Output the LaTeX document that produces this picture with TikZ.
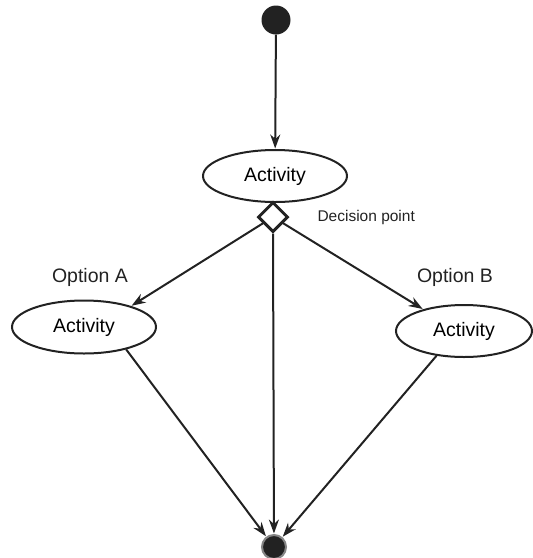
\documentclass[tikz,border=0pt]{standalone}
\usepackage{fontspec}
\setmainfont{Liberation Sans}
\usetikzlibrary{shapes.geometric,arrows.meta}
\definecolor{ink}{HTML}{222222}
\tikzset{
  activity/.style={ellipse, draw=ink, line width=2pt, fill=white,
    inner sep=0pt, font=\fontsize{19.5}{22}\selectfont},
  flow/.style={draw=ink, line width=2pt,
    -{Stealth[length=14pt,width=10pt]}, shorten >=0.5pt},
  label/.style={font=\fontsize{19.5}{22}\selectfont, text=ink},
}
\begin{document}
\begin{tikzpicture}[x=1pt, y=-1pt]
  \useasboundingbox (0,0) rectangle (533,558);

  % start and end markers
  \node (start) [circle, fill=ink, minimum size=29pt, inner sep=0pt] at (276,20) {};
  \node (end) [circle, fill=ink, draw=ink!55, line width=2pt,
               minimum size=24pt, inner sep=0pt] at (274,547) {};

  % activities
  \node (act) [activity, minimum width=144pt, minimum height=52pt] at (275,176) {Activity};
  \node (actA) [activity, minimum width=144pt, minimum height=53pt] at (84,327) {Activity};
  \node (actB) [activity, minimum width=136pt, minimum height=52pt] at (464,331) {Activity};

  % decision point
  \node (dec) [diamond, draw=ink, line width=3pt, fill=white,
               minimum width=30pt, minimum height=30pt, inner sep=0pt] at (273,217) {};
  \node (declbl) [font=\fontsize{15.5}{18}\selectfont, text=ink, anchor=west] at (314,217) {Decision point};

  % branch labels
  \node (optA) [label] at (90,277) {Option A};
  \node (optB) [label] at (455,277) {Option B};

  % connectors
  \draw[flow] (start) -- (act);
  \draw[flow] (dec) -- (actA.24);
  \draw[flow] (dec) -- (actB.152);
  \draw[flow] (dec.south) -- (end);
  \draw[flow] (actA.-28) -- (end);
  \draw[flow] (actB.222) -- (end);
\end{tikzpicture}
\end{document}
